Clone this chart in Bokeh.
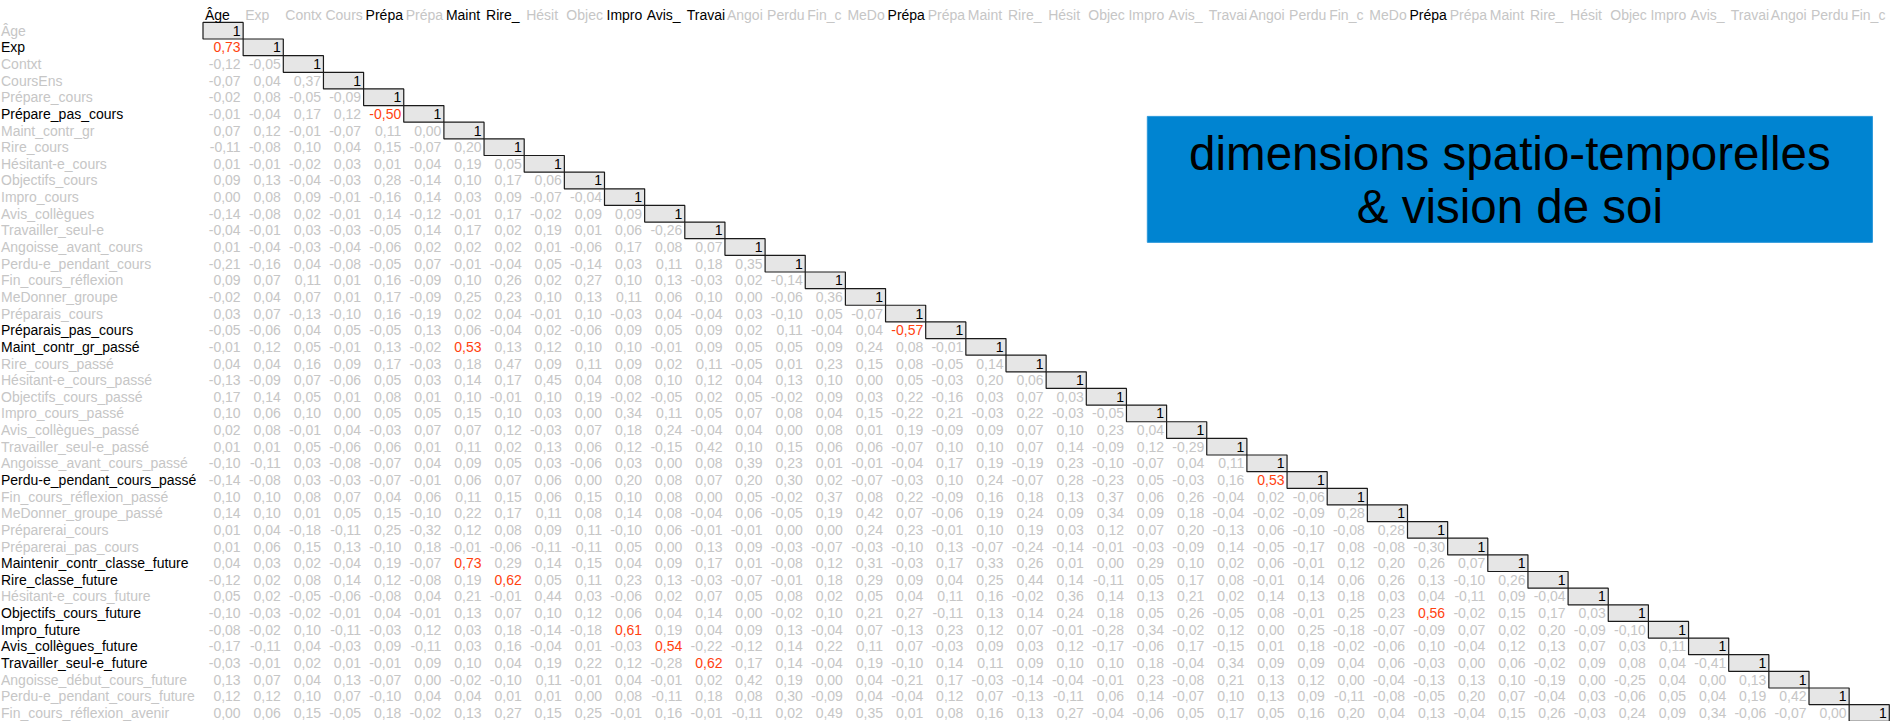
from bokeh.plotting import figure
from bokeh.models import ColumnDataSource, Range1d
from bokeh.core.properties import value
from bokeh.embed import file_html
from bokeh.resources import INLINE

# ---------------- data ----------------
labels = [
    "Âge", "Exp", "Contxt", "CoursEns", "Prépare_cours", "Prépare_pas_cours",
    "Maint_contr_gr", "Rire_cours", "Hésitant-e_cours", "Objectifs_cours",
    "Impro_cours", "Avis_collègues", "Travailler_seul-e", "Angoisse_avant_cours",
    "Perdu-e_pendant_cours", "Fin_cours_réflexion", "MeDonner_groupe",
    "Préparais_cours", "Préparais_pas_cours", "Maint_contr_gr_passé",
    "Rire_cours_passé", "Hésitant-e_cours_passé", "Objectifs_cours_passé",
    "Impro_cours_passé", "Avis_collègues_passé", "Travailler_seul-e_passé",
    "Angoisse_avant_cours_passé", "Perdu-e_pendant_cours_passé",
    "Fin_cours_réflexion_passé", "MeDonner_groupe_passé", "Préparerai_cours",
    "Préparerai_pas_cours", "Maintenir_contr_classe_future", "Rire_classe_future",
    "Hésitant-e_cours_future", "Objectifs_cours_future", "Impro_future",
    "Avis_collègues_future", "Travailler_seul-e_future",
    "Angoisse_début_cours_future", "Perdu-e_pendant_cours_future",
    "Fin_cours_réflexion_avenir",
]

# lower triangle (row i holds correlations with columns 0..i-1)
corr = [
    [],
    [0.73],
    [-0.12, -0.05],
    [-0.07, 0.04, 0.37],
    [-0.02, 0.08, -0.05, -0.09],
    [-0.01, -0.04, 0.17, 0.12, -0.50],
    [0.07, 0.12, -0.01, -0.07, 0.11, 0.00],
    [-0.11, -0.08, 0.10, 0.04, 0.15, -0.07, 0.20],
    [0.01, -0.01, -0.02, 0.03, 0.01, 0.04, 0.19, 0.05],
    [0.09, 0.13, -0.04, -0.03, 0.28, -0.14, 0.10, 0.17, 0.06],
    [0.00, 0.08, 0.09, -0.01, -0.16, 0.14, 0.03, 0.09, -0.07, -0.04],
    [-0.14, -0.08, 0.02, -0.01, 0.14, -0.12, -0.01, 0.17, -0.02, 0.09, 0.09],
    [-0.04, -0.01, 0.03, -0.03, -0.05, 0.14, 0.17, 0.02, 0.19, 0.01, 0.06, -0.26],
    [0.01, -0.04, -0.03, -0.04, -0.06, 0.02, 0.02, 0.02, 0.01, -0.06, 0.17, 0.08, 0.07],
    [-0.21, -0.16, 0.04, -0.08, -0.05, 0.07, -0.01, -0.04, 0.05, -0.14, 0.03, 0.11, 0.18, 0.35],
    [0.09, 0.07, 0.11, 0.01, 0.16, -0.09, 0.10, 0.26, 0.02, 0.27, 0.10, 0.13, -0.03, 0.02, -0.14],
    [-0.02, 0.04, 0.07, 0.01, 0.17, -0.09, 0.25, 0.23, 0.10, 0.13, 0.11, 0.06, 0.10, 0.00, -0.06, 0.36],
    [0.03, 0.07, -0.13, -0.10, 0.16, -0.19, 0.02, 0.04, -0.01, 0.10, -0.03, 0.04, -0.04, 0.03, -0.10, 0.05, -0.07],
    [-0.05, -0.06, 0.04, 0.05, -0.05, 0.13, 0.06, -0.04, 0.02, -0.06, 0.09, 0.05, 0.09, 0.02, 0.11, -0.04, 0.04, -0.57],
    [-0.01, 0.12, 0.05, -0.01, 0.13, -0.02, 0.53, 0.13, 0.12, 0.10, 0.10, -0.01, 0.09, 0.05, 0.05, 0.09, 0.24, 0.08, -0.01],
    [0.04, 0.04, 0.16, 0.09, 0.17, -0.03, 0.18, 0.47, 0.09, 0.11, 0.09, 0.02, 0.11, -0.05, 0.01, 0.23, 0.15, 0.08, -0.05, 0.14],
    [-0.13, -0.09, 0.07, -0.06, 0.05, 0.03, 0.14, 0.17, 0.45, 0.04, 0.08, 0.10, 0.12, 0.04, 0.13, 0.10, 0.00, 0.05, -0.03, 0.20, 0.06],
    [0.17, 0.14, 0.05, 0.01, 0.08, 0.01, 0.10, -0.01, 0.10, 0.19, -0.02, -0.05, 0.02, 0.05, -0.02, 0.09, 0.03, 0.22, -0.16, 0.03, 0.07, 0.03],
    [0.10, 0.06, 0.10, 0.00, 0.05, 0.05, 0.15, 0.10, 0.03, 0.00, 0.34, 0.11, 0.05, 0.07, 0.08, 0.04, 0.15, -0.22, 0.21, -0.03, 0.22, -0.03, -0.05],
    [0.02, 0.08, -0.01, 0.04, -0.03, 0.07, 0.07, 0.12, -0.03, 0.07, 0.18, 0.24, -0.04, 0.04, 0.00, 0.08, 0.01, 0.19, -0.09, 0.09, 0.07, 0.10, 0.23, 0.04],
    [0.01, 0.01, 0.05, -0.06, 0.06, 0.01, 0.11, 0.02, 0.13, 0.06, 0.12, -0.15, 0.42, 0.10, 0.15, 0.06, 0.06, -0.07, 0.10, 0.10, 0.07, 0.14, -0.09, 0.12, -0.29],
    [-0.10, -0.11, 0.03, -0.08, -0.07, 0.04, 0.09, 0.05, 0.03, -0.06, 0.03, 0.00, 0.08, 0.39, 0.23, 0.01, -0.01, -0.04, 0.17, 0.19, -0.19, 0.23, -0.10, -0.07, 0.04, 0.11],
    [-0.14, -0.08, 0.03, -0.03, -0.07, -0.01, 0.06, 0.07, 0.06, 0.00, 0.20, 0.08, 0.07, 0.20, 0.30, 0.02, -0.07, -0.03, 0.10, 0.24, -0.07, 0.28, -0.23, 0.05, -0.03, 0.16, 0.53],
    [0.10, 0.10, 0.08, 0.07, 0.04, 0.06, 0.11, 0.15, 0.06, 0.15, 0.10, 0.08, 0.00, 0.05,
     -0.02, 0.37, 0.08, 0.22, -0.09, 0.16, 0.18, 0.13, 0.37, 0.06, 0.26, -0.04, 0.02, -0.06],
    [0.14, 0.10, 0.01, 0.05, 0.15, -0.10, 0.22, 0.17, 0.11, 0.08, 0.14, 0.08, -0.04, 0.06,
     -0.05, 0.19, 0.42, 0.07, -0.06, 0.19, 0.24, 0.09, 0.34, 0.09, 0.18, -0.04, -0.02, -0.09, 0.28],
    [0.01, 0.04, -0.18, -0.11, 0.25, -0.32, 0.12, 0.08, 0.09, 0.11, -0.10, 0.06, -0.01, -0.01,
     0.00, 0.00, 0.24, 0.23, -0.01, 0.10, 0.19, 0.03, 0.12, 0.07, 0.20, -0.13, 0.06, -0.10, -0.08, 0.28],
    [0.01, 0.06, 0.15, 0.13, -0.10, 0.18, -0.01, -0.06, -0.11, -0.11, 0.05, 0.00, 0.13, 0.09,
     -0.03, -0.07, -0.03, -0.10, 0.13, -0.07, -0.24, -0.14, -0.01, -0.03, -0.09, 0.14, -0.05, -0.17, 0.08, -0.08, -0.30],
    [0.04, 0.03, 0.02, -0.04, 0.19, -0.07, 0.73, 0.29, 0.14, 0.15, 0.04, 0.09, 0.17, 0.01,
     -0.08, 0.12, 0.31, -0.03, 0.17, 0.33, 0.26, 0.01, 0.00, 0.29, 0.10, 0.02, 0.06, -0.01, 0.12, 0.20, 0.26, 0.07],
    [-0.12, 0.02, 0.08, 0.14, 0.12, -0.08, 0.19, 0.62, 0.05, 0.11, 0.23, 0.13, -0.03, -0.07,
     -0.01, 0.18, 0.29, 0.09, 0.04, 0.25, 0.44, 0.14, -0.11, 0.05, 0.17, 0.08, -0.01, 0.14, 0.06, 0.26, 0.13, -0.10, 0.26],
    [0.05, 0.02, -0.05, -0.06, -0.08, 0.04, 0.21, -0.01, 0.44, 0.03, -0.06, 0.02, 0.07, 0.05,
     0.08, 0.02, 0.05, 0.04, 0.11, 0.16, -0.02, 0.36, 0.14, 0.13, 0.21, 0.02, 0.14, 0.13, 0.18, 0.03, 0.04, -0.11, 0.09, -0.04],
    [-0.10, -0.03, -0.02, -0.01, 0.04, -0.01, 0.13, 0.07, 0.10, 0.12, 0.06, 0.04, 0.14, 0.00,
     -0.02, 0.10, 0.21, 0.27, -0.11, 0.13, 0.14, 0.24, 0.18, 0.05, 0.26, -0.05, 0.08, -0.01, 0.25, 0.23, 0.56, -0.02, 0.15, 0.17, 0.03],
    [-0.08, -0.02, 0.10, -0.11, -0.03, 0.12, 0.03, 0.18, -0.14, -0.18, 0.61, 0.19, 0.04, 0.09,
     0.13, -0.04, 0.07, -0.13, 0.23, 0.12, 0.07, -0.01, -0.28, 0.34, -0.02, 0.12, 0.00, 0.25, -0.18, -0.07, -0.09, 0.07, 0.02, 0.20, -0.09, -0.10],
    [-0.17, -0.11, 0.04, -0.03, 0.09, -0.11, 0.03, 0.16, -0.04, 0.01, -0.03, 0.54, -0.22, -0.12,
     0.14, 0.22, 0.11, 0.07, -0.03, 0.09, 0.03, 0.12, -0.17, -0.06, 0.17, -0.15, 0.01, 0.18, -0.02, -0.06, 0.10, -0.04, 0.12, 0.13, 0.07, 0.03, 0.11],
    [-0.03, -0.01, 0.02, 0.01, -0.01, 0.09, 0.10, 0.04, 0.19, 0.22, 0.12, -0.28, 0.62, 0.17,
     0.14, -0.04, 0.19, -0.10, 0.14, 0.11, 0.09, 0.10, 0.10, 0.18, -0.04, 0.34, 0.09, 0.09, 0.04, 0.06, -0.03, 0.00, 0.06, -0.02, 0.09, 0.08, 0.04, -0.41],
    [0.13, 0.07, 0.04, 0.13, -0.07, 0.00, -0.02, -0.10, 0.11, -0.01, 0.04, -0.01, 0.02, 0.42,
     0.19, 0.00, 0.04, -0.21, 0.17, -0.03, -0.14, -0.04, -0.01, 0.23, -0.08, 0.21, 0.13, 0.12, 0.00, -0.04, -0.13, 0.13, 0.10, -0.19, 0.00, -0.25, 0.04, 0.00, 0.13],
    [0.12, 0.12, 0.10, 0.07, -0.10, 0.04, 0.04, 0.01, 0.01, 0.00, 0.08, -0.11, 0.18, 0.08,
     0.30, -0.09, 0.04, -0.04, 0.12, 0.07, -0.13, -0.11, 0.06, 0.14, -0.07, 0.10, 0.13, 0.09, -0.11, -0.08, -0.05, 0.20, 0.07, -0.04, 0.03, -0.06, 0.05, 0.04, 0.19, 0.42],
    [0.00, 0.06, 0.15, -0.05, 0.18, -0.02, 0.13, 0.27, 0.15, 0.25, -0.01, 0.16, -0.01, -0.11,
     0.02, 0.49, 0.35, 0.01, 0.08, 0.16, 0.13, 0.27, -0.04, -0.06, 0.05, 0.17, 0.05, 0.16, 0.20, 0.04, 0.13, -0.04, 0.15, 0.26, -0.03, 0.24, 0.09, 0.34, -0.06, -0.07, 0.00],
]

dark_rows = [1, 5, 18, 19, 27, 32, 33, 35, 36, 37, 38]   # row labels in black
dark_cols = [0, 4, 6, 7, 10, 11, 12, 17, 30]             # column headers in black
threshold = 0.5                                          # |r| >= threshold shown in red
title_lines = ["dimensions spatio-temporelles", "& vision de soi"]

# ---------------- layout constants ----------------
W, H = 1893, 721
COL_PX, X0_PX = 40.15, 202.5      # width of a cell, left edge of first cell
ROW_PX, Y0_PX = 16.64, 30.2       # height of a cell, centre of first row
FONT = "Liberation Sans"
FS = "14px"
GRAY, BLACK, RED = "#c6c6c6", "#000000", "#ff4210"

# Liberation Sans advance widths (per 1000 em) used to mimic cell clipping of headers
CW = dict(a=556, b=556, c=500, d=556, e=556, f=278, g=556, h=556, i=222, j=222, k=500,
          l=222, m=833, n=556, o=556, p=556, q=556, r=333, s=500, t=278, u=556, v=500,
          w=722, x=500, y=500, z=500, A=667, C=722, D=722, E=667, F=611, H=722, I=278,
          M=833, O=778, P=667, R=722, T=611)
CW.update({"Â": 667, "é": 556, "è": 556, "_": 556, "-": 333})


def clip_text(s, avail_px, size=14.0):
    out, w = "", 0.0
    for ch in s:
        w += CW.get(ch, 556) * size / 1000.0
        if w > avail_px:
            break
        out += ch
    return out


def fmt(v):
    return ("%.2f" % v).replace(".", ",")


n = len(labels)
x_start, x_end = -X0_PX / COL_PX, (W - X0_PX) / COL_PX
y_top, y_bot = -Y0_PX / ROW_PX, (H - Y0_PX) / ROW_PX

p = figure(width=W, height=H, output_backend="svg", toolbar_location=None,
           x_range=Range1d(x_start, x_end), y_range=Range1d(y_bot, y_top),
           x_axis_location=None, y_axis_location=None, min_border=0)
p.grid.visible = False
p.outline_line_color = None
p.background_fill_color = "white"
p.border_fill_color = "white"

# values
vx, vy, vt, vc = [], [], [], []
for i, row in enumerate(corr):
    for j, v in enumerate(row):
        vx.append(j + 1)
        vy.append(i)
        vt.append(fmt(v))
        vc.append(RED if abs(v) >= threshold else GRAY)
vals = ColumnDataSource(dict(x=vx, y=vy, text=vt, color=vc))
p.text(x="x", y="y", text="text", source=vals, text_color="color",
       text_font=value(FONT), text_font_size=FS, text_align="right",
       text_baseline="middle", x_offset=-2.5)

# diagonal cells
idx = list(range(n))
diag = ColumnDataSource(dict(left=idx, right=[k + 1 for k in idx],
                             top=[k - 0.5 for k in idx], bottom=[k + 0.5 for k in idx],
                             x=[k + 1 for k in idx], y=idx, text=["1"] * n))
p.quad(left="left", right="right", top="top", bottom="bottom", source=diag,
       fill_color="#e6e6e6", line_color="#1a1a1a", line_width=1.2)
p.text(x="x", y="y", text="text", source=diag, text_color=BLACK,
       text_font=value(FONT), text_font_size=FS, text_align="right",
       text_baseline="middle", x_offset=-2.5)

# row labels
rows_src = ColumnDataSource(dict(
    x=[x_start] * n, y=idx, text=labels,
    color=[BLACK if k in dark_rows else GRAY for k in idx]))
p.text(x="x", y="y", text="text", source=rows_src, text_color="color",
       text_font=value(FONT), text_font_size=FS, text_align="left",
       text_baseline="middle", x_offset=0.5)

# column headers (clipped to the cell width)
hdr_src = ColumnDataSource(dict(
    x=idx, y=[-0.95] * n,
    text=[clip_text(s, COL_PX - 1.0) for s in labels],
    color=[BLACK if k in dark_cols else GRAY for k in idx]))
p.text(x="x", y="y", text="text", source=hdr_src, text_color="color",
       text_font=value(FONT), text_font_size=FS, text_align="left",
       text_baseline="middle", x_offset=2)

# blue title box
box_l, box_r, box_t, box_b = 23.52, 41.58, 5.15, 12.72
p.quad(left=[box_l], right=[box_r], top=[box_t], bottom=[box_b],
       fill_color="#0084d1", line_color="#2a97da", line_width=1)
p.text(x=[(box_l + box_r) / 2] * 2, y=[7.36, 10.58], text=title_lines,
       text_color=BLACK, text_font=value(FONT), text_font_size="47.5px",
       text_align="center", text_baseline="middle")

open("out.html", "w").write(file_html(p, INLINE))
